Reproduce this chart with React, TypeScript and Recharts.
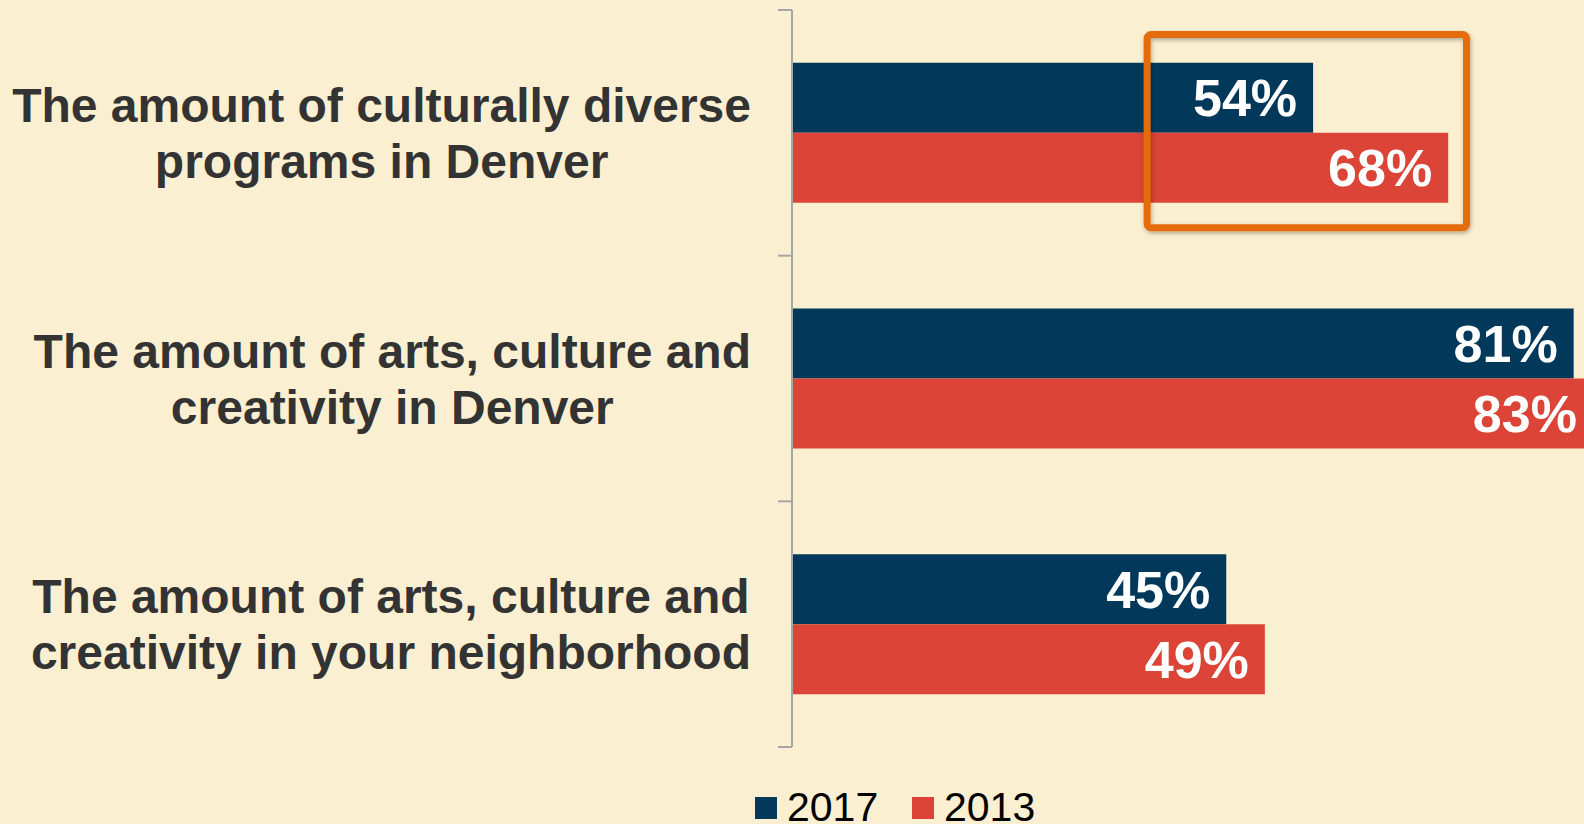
import { BarChart, Bar, XAxis, YAxis, LabelList, ReferenceArea } from "recharts";

// category labels (two lines each) and keys
const categoryKeys = ["diverse", "denver", "neighborhood"];
const categoryLines = [
    ["The amount of culturally diverse", "programs in Denver"],
    ["The amount of arts, culture and", "creativity in Denver"],
    ["The amount of arts, culture and", "creativity in your neighborhood"]
];

const seriesNames = ["2017", "2013"];
const seriesColors = ["#02395A", "#DB4436"];
const values2017 = [54, 81, 45];
const values2013 = [68, 83, 49];

// highlighted span on the first category (in % units)
const highlightFrom = 36.8;
const highlightTo = 69.9;

const W = 1760;
const H = 824;
const MARGIN = { top: 10, right: 3, bottom: 77, left: 0 };
const AXIS_W = 792;
const TICK_SIZE = 14;
const TICK_MARGIN = 27;
const BAND = (H - MARGIN.top - MARGIN.bottom) / categoryKeys.length;
const FONT = "'Liberation Sans', Arial, sans-serif";

const data = categoryKeys.map((k, i) => ({
    cat: k,
    y2017: values2017[i],
    y2013: values2013[i]
}));

let ctx: CanvasRenderingContext2D | null = null;
function textWidth(text: string, font: string) {
    if (!ctx) ctx = document.createElement("canvas").getContext("2d");
    if (!ctx) return text.length * 26;
    ctx.font = font;
    return ctx.measureText(text).width;
}

function CategoryTick(props: any) {
    const { x, y, payload } = props;
    const idx = categoryKeys.indexOf(payload.value);
    const lines = categoryLines[idx] ?? [];
    const maxW = Math.max(...lines.map(l => textWidth(l, `bold 48px ${FONT}`)));
    const cx = x - maxW / 2;
    const axisX = x + TICK_MARGIN + TICK_SIZE;
    const top = y - BAND / 2;
    return (
        <g>
            <line x1={axisX - TICK_SIZE} x2={axisX} y1={top} y2={top} stroke="#A6A6A6" strokeWidth={2} />
            {idx === categoryKeys.length - 1 && (
                <line x1={axisX - TICK_SIZE} x2={axisX} y1={top + BAND} y2={top + BAND} stroke="#A6A6A6" strokeWidth={2} />
            )}
            {lines.map((l, i) => (
                <text
                    key={i}
                    x={cx}
                    y={y - 11 + i * 56}
                    textAnchor="middle"
                    fontFamily={FONT}
                    fontWeight="bold"
                    fontSize={48}
                    fill="#333333"
                >
                    {l}
                </text>
            ))}
        </g>
    );
}

function HighlightBox(props: any) {
    const { x, y, width, height } = props;
    const top = y + 24.5;
    const h = height - 24.5 - 28;
    return (
        <g>
            <defs>
                <filter id="boxShadow" x="-10%" y="-10%" width="120%" height="120%">
                    <feDropShadow dx="1" dy="2" stdDeviation="2" floodColor="#000" floodOpacity="0.3" />
                </filter>
            </defs>
            <rect
                x={x}
                y={top}
                width={width}
                height={h}
                rx={4}
                fill="none"
                stroke="#E46C0A"
                strokeWidth={7}
                filter="url(#boxShadow)"
            />
        </g>
    );
}

export default function App() {
    return (
        <div
            style={{
                position: "fixed",
                left: 0,
                top: 0,
                width: 1584,
                height: 824,
                overflow: "hidden",
                background: "#FAEFD0"
            }}
        >
            <BarChart
                width={W}
                height={H}
                data={data}
                layout="vertical"
                margin={MARGIN}
                barCategoryGap="21.5%"
                barGap={0}
            >
                <XAxis type="number" domain={[0, 100]} hide />
                <YAxis
                    type="category"
                    dataKey="cat"
                    width={AXIS_W}
                    axisLine={{ stroke: "#A6A6A6", strokeWidth: 2 }}
                    tickLine={false}
                    tickSize={TICK_SIZE}
                    tickMargin={TICK_MARGIN}
                    tick={<CategoryTick />}
                    interval={0}
                />
                <Bar dataKey="y2017" name={seriesNames[0]} fill={seriesColors[0]} isAnimationActive={false}>
                    <LabelList
                        dataKey="y2017"
                        position="insideRight"
                        offset={16}
                        formatter={(v: any) => `${v}%`}
                        fill="#FFFFFF"
                        fontSize={52}
                        fontWeight="bold"
                        fontFamily={FONT}
                    />
                </Bar>
                <Bar dataKey="y2013" name={seriesNames[1]} fill={seriesColors[1]} isAnimationActive={false}>
                    <LabelList
                        dataKey="y2013"
                        position="insideRight"
                        offset={16}
                        formatter={(v: any) => `${v}%`}
                        fill="#FFFFFF"
                        fontSize={52}
                        fontWeight="bold"
                        fontFamily={FONT}
                    />
                </Bar>
                <ReferenceArea
                    x1={highlightFrom}
                    x2={highlightTo}
                    y1={categoryKeys[0]}
                    y2={categoryKeys[0]}
                    ifOverflow="visible"
                    zIndex={2000}
                    shape={<HighlightBox />}
                />
            </BarChart>
            <svg width={1584} height={824} style={{ position: "absolute", left: 0, top: 0, pointerEvents: "none" }}>
                {seriesNames.map((name, i) => {
                    const left = 755 + i * 157;
                    return (
                        <g key={name}>
                            <rect x={left} y={797} width={22} height={22} fill={seriesColors[i]} />
                            <text x={left + 32} y={821} fontFamily={FONT} fontSize={41} fill="#000">
                                {name}
                            </text>
                        </g>
                    );
                })}
            </svg>
        </div>
    );
}
